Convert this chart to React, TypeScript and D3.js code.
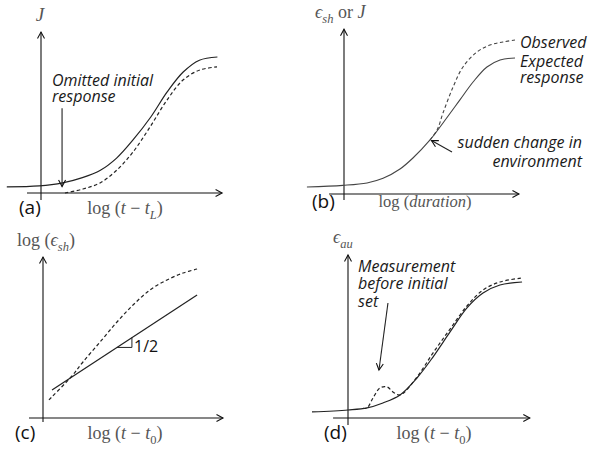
import React from 'react';
import * as d3 from 'd3';

// curve samples, in axis units (0..100 on both axes of each panel)
const aSolidX = [-19, -1, 12, 23, 33, 42, 51, 61, 70, 79, 88, 98];
const aSolidY = [3.8, 4.4, 6.3, 9.6, 14.2, 21.8, 33, 47.5, 63, 75.6, 83, 85];
const aDashX = [13.3, 23.3, 32.8, 42.2, 51.1, 60.6, 70, 78.9, 88.3, 97.8];
const aDashY = [0, 2.5, 6.3, 14.4, 25.6, 41.3, 58.1, 70.6, 76.9, 78.8];

const bSolidX = [-20.6, -0.6, 12.8, 21.7, 31.1, 38.3, 47.8, 55, 64.4, 71.7, 79.4, 86.7, 95];
const bSolidY = [4.4, 5.4, 6.9, 9.8, 15.6, 22.5, 33.8, 44.4, 58.8, 70, 79.4, 83.8, 85];
const bDashX = [47.8, 51.7, 55, 60.6, 66.1, 73.9, 81.1, 88.3, 95];
const bDashY = [33.8, 40, 50.6, 66.9, 79.4, 88.8, 93.1, 95, 96.3];

const cSolidX = [5, 85.6];
const cSolidY = [17.5, 76.9];
const cDashX = [3.3, 16.1, 22.2, 31.7, 41.1, 50, 59.4, 68.9, 77.8, 85.6];
const cDashY = [11.3, 26.3, 35, 47.5, 60, 70.6, 80, 86.3, 90.6, 93.1];
const cSlopeX = [41.1, 49.4]; // the little 1/2 triangle

const dSolidX = [-20, 0, 10.6, 19.4, 28.9, 38.3, 47.2, 56.7, 66.1, 75, 84.4, 96.7];
const dSolidY = [3.8, 5, 6.3, 9.4, 14.4, 25, 38.1, 53.8, 68.8, 78.1, 83.1, 85];
const dDashX = [8.3, 10.6, 13.9, 17.8, 21.7, 25, 28.9, 38.3, 47.2, 56.7, 66.1, 75, 84.4, 96.7];
const dDashY = [6, 6.3, 12.5, 18.8, 19.4, 16.3, 14.4, 25.6, 40.6, 55.6, 70, 80, 85, 87.5];

const SANS = '"Open Sans", sans-serif';
const SERIF = '"Liberation Serif", "DejaVu Serif", serif';
const MATH = '#555';
const MFS = 18; // math label size
const SFS = 12.5; // subscript size

type Pt = [number, number];
const zip = (xs: number[], ys: number[]): Pt[] => xs.map((x, i) => [x, ys[i]]);

function makeScales(ox: number, oy: number) {
  const x = d3.scaleLinear().domain([0, 100]).range([ox, ox + 180]);
  const y = d3.scaleLinear().domain([0, 100]).range([oy, oy - 160]);
  return { x, y };
}

function Axes({ sx, sy, xr, yr }: any) {
  return (
    <g stroke="#111" strokeWidth={1.1} fill="none">
      <line x1={sx(xr[0])} x2={sx(xr[1])} y1={sy(0)} y2={sy(0)} markerEnd="url(#chev)" />
      <line x1={sx(0)} x2={sx(0)} y1={sy(yr[0])} y2={sy(yr[1])} markerEnd="url(#chev)" />
    </g>
  );
}

function Curve({ sx, sy, pts, dashed, color = '#222', width = 1.2 }: any) {
  const line = d3
    .line<Pt>()
    .x((d) => sx(d[0]))
    .y((d) => sy(d[1]))
    .curve(pts.length > 2 ? d3.curveCatmullRom.alpha(0.5) : d3.curveLinear);
  return (
    <path
      d={line(pts) || ''}
      fill="none"
      stroke={color}
      strokeWidth={width}
      strokeDasharray={dashed ? '3.5,2.5' : undefined}
    />
  );
}

function Note({ sx, sy, x, y, lines, anchor = 'start', gap = 16.5 }: any) {
  return (
    <g fontFamily={SANS} fontStyle="italic" fontSize={16} fill="#1a1a1a" textAnchor={anchor}>
      {lines.map((l: string, i: number) => (
        <text key={i} x={sx(x)} y={sy(y) + i * gap}>
          {l}
        </text>
      ))}
    </g>
  );
}

function Arrow({ sx, sy, from, to }: any) {
  return (
    <line
      x1={sx(from[0])}
      y1={sy(from[1])}
      x2={sx(to[0])}
      y2={sy(to[1])}
      stroke="#222"
      strokeWidth={1.1}
      markerEnd="url(#chev)"
    />
  );
}

function Tag({ x, y, t }: any) {
  return (
    <text x={x} y={y} fontFamily={SANS} fontSize={19} fill="#111">
      {t}
    </text>
  );
}

function LogT({ x, y, s }: any) {
  return (
    <text x={x} y={y} fontFamily={SERIF} fontSize={MFS} fill={MATH} textAnchor="middle">
      log (<tspan fontStyle="italic">t</tspan>
      <tspan>{' − '}</tspan>
      <tspan fontStyle="italic">t</tspan>
      <tspan fontSize={SFS} dy={4.5} fontStyle={s === '0' ? 'normal' : 'italic'}>
        {s}
      </tspan>
      <tspan dy={-4.5}>)</tspan>
    </text>
  );
}

export default function App() {
  const A = makeScales(41, 193);
  const B = makeScales(344, 194);
  const C = makeScales(43, 418);
  const D = makeScales(348, 418);

  const cLine = d3.scaleLinear().domain(cSolidX).range(cSolidY);
  const tri: Pt[] = [
    [cSlopeX[0], cLine(cSlopeX[0])],
    [cSlopeX[1], cLine(cSlopeX[0])],
    [cSlopeX[1], cLine(cSlopeX[1])],
  ];

  const sub = (s: string) => (
    <tspan fontSize={SFS} dy={4.5} fontStyle="italic">
      {s}
    </tspan>
  );

  return (
    <svg
      width={594}
      height={449}
      style={{ position: 'absolute', left: 0, top: 0, background: '#fff' }}
    >
      <defs>
        <marker
          id="chev"
          viewBox="-8 -5 10 10"
          markerWidth={10}
          markerHeight={10}
          refX={0}
          refY={0}
          orient="auto"
          markerUnits="userSpaceOnUse"
        >
          <path d="M-6.5,-3.5 L0,0 L-6.5,3.5" fill="none" stroke="#111" strokeWidth={1.1} />
        </marker>
      </defs>

      {/* (a) */}
      <Axes sx={A.x} sy={A.y} xr={[-7.8, 100.6]} yr={[-4.4, 100.6]} />
      <Curve sx={A.x} sy={A.y} pts={zip(aSolidX, aSolidY)} />
      <Curve sx={A.x} sy={A.y} pts={zip(aDashX, aDashY)} dashed />
      <Note sx={A.x} sy={A.y} x={6.1} y={66.9} lines={['Omitted initial', 'response']} gap={16.5} />
      <Arrow sx={A.x} sy={A.y} from={[11.7, 53]} to={[11.7, 4]} />
      <text x={40} y={21} fontFamily={SERIF} fontStyle="italic" fontSize={19} fill={MATH} textAnchor="middle">
        J
      </text>
      <Tag x={19} y={214} t="(a)" />
      <LogT x={125} y={214} s="L" />

      {/* (b) */}
      <Axes sx={B.x} sy={B.y} xr={[-8.3, 97.2]} yr={[-3.8, 103]} />
      <Curve sx={B.x} sy={B.y} pts={zip(bSolidX, bSolidY)} color="#444" width={1.1} />
      <Curve sx={B.x} sy={B.y} pts={zip(bDashX, bDashY)} dashed color="#444" width={1.1} />
      <Note sx={B.x} sy={B.y} x={97.8} y={91.3} lines={['Observed']} />
      <Note sx={B.x} sy={B.y} x={97.8} y={79.4} lines={['Expected', 'response']} gap={16.5} />
      <Note sx={B.x} sy={B.y} x={132.2} y={28.8} lines={['sudden change in', 'environment']} anchor="end" gap={19} />
      <Arrow sx={B.x} sy={B.y} from={[60, 26.3]} to={[48.6, 33.4]} />
      <text x={315} y={18} fontFamily={SERIF} fontSize={MFS} fill={MATH}>
        <tspan fontStyle="italic">ϵ</tspan>
        {sub('sh')}
        <tspan dy={-4.5}>{' or '}</tspan>
        <tspan fontStyle="italic">J</tspan>
      </text>
      <Tag x={312} y={208} t="(b)" />
      <text x={425} y={207} fontFamily={SERIF} fontSize={16.5} fill={MATH} textAnchor="middle">
        log (<tspan fontStyle="italic">duration</tspan>)
      </text>

      {/* (c) */}
      <Axes sx={C.x} sy={C.y} xr={[-7.8, 100]} yr={[-2.5, 100.6]} />
      <Curve sx={C.x} sy={C.y} pts={zip(cSolidX, cSolidY)} />
      <Curve sx={C.x} sy={C.y} pts={zip(cDashX, cDashY)} dashed />
      <path
        d={`M${tri.map((p) => `${C.x(p[0])},${C.y(p[1])}`).join('L')}`}
        fill="none"
        stroke="#222"
        strokeWidth={1}
      />
      <text x={C.x(50.6)} y={C.y(41.3)} fontFamily={SANS} fontSize={16} fill="#111">
        1/2
      </text>
      <text x={17} y={246} fontFamily={SERIF} fontSize={MFS} fill={MATH}>
        log (<tspan fontStyle="italic">ϵ</tspan>
        {sub('sh')}
        <tspan dy={-4.5}>)</tspan>
      </text>
      <Tag x={15} y={439} t="(c)" />
      <LogT x={125} y={439} s="0" />

      {/* (d) */}
      <Axes sx={D.x} sy={D.y} xr={[-8.3, 101]} yr={[-4.4, 101.9]} />
      <Curve sx={D.x} sy={D.y} pts={zip(dSolidX, dSolidY)} />
      <Curve sx={D.x} sy={D.y} pts={zip(dDashX, dDashY)} dashed />
      <Note sx={D.x} sy={D.y} x={5.6} y={91.3} lines={['Measurement', 'before initial', 'set']} gap={17.5} />
      <Arrow sx={D.x} sy={D.y} from={[22.2, 71.9]} to={[17.2, 30]} />
      <text x={333} y={243} fontFamily={SERIF} fontSize={MFS} fill={MATH}>
        <tspan fontStyle="italic">ϵ</tspan>
        {sub('au')}
      </text>
      <Tag x={324} y={439} t="(d)" />
      <LogT x={434} y={439} s="0" />
    </svg>
  );
}
